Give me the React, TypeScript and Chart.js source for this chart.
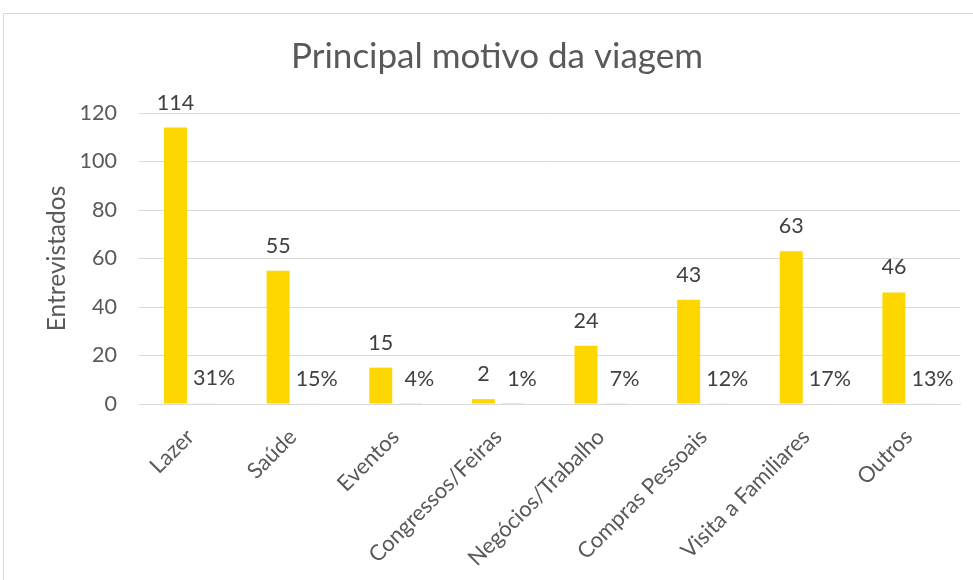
import React, { useEffect, useRef } from "react";
import { Chart, registerables } from "chart.js";

Chart.register(...registerables);

const categories = [
  "Lazer",
  "Saúde",
  "Eventos",
  "Congressos/Feiras",
  "Negócios/Trabalho",
  "Compras Pessoais",
  "Visita a Familiares",
  "Outros",
];
const entrevistados = [114, 55, 15, 2, 24, 43, 63, 46];
const percentuais = [0.31, 0.15, 0.04, 0.01, 0.07, 0.12, 0.17, 0.13];
const yTicks = [0, 20, 40, 60, 80, 100, 120];
const chartTitle = "Principal motivo da viagem";

const FONT = "Lato, 'Open Sans', sans-serif";
const TEXT_DARK = "#404040";
const TEXT = "#595959";
const GRID = "#d9d9d9";

const labelPlugin = {
  id: "valueLabels",
  afterDatasetsDraw(chart: any) {
    const ctx = chart.ctx;
    ctx.save();
    ctx.font = `21.5px ${FONT}`;
    ctx.fillStyle = TEXT_DARK;
    ctx.textAlign = "center";
    ctx.textBaseline = "alphabetic";
    chart.data.datasets.forEach((ds: any, di: number) => {
      const meta = chart.getDatasetMeta(di);
      meta.data.forEach((bar: any, i: number) => {
        const v = ds.data[i];
        const text = di === 0 ? String(v) : Math.round(v * 100) + "%";
        const dx = di === 0 ? 0 : 9;
        ctx.fillText(text, bar.x + dx, bar.y - 18);
      });
    });
    // chart title, centred on the chart box
    ctx.font = `35px ${FONT}`;
    ctx.fillStyle = TEXT;
    ctx.textBaseline = "middle";
    ctx.fillText(chartTitle, 497, 57);
    ctx.restore();
  },
};

export default function App() {
  const ref = useRef<HTMLCanvasElement | null>(null);

  useEffect(() => {
    if (!ref.current) return;
    const chart = new Chart(ref.current, {
      type: "bar",
      data: {
        labels: categories,
        datasets: [
          {
            label: "Entrevistados",
            data: entrevistados,
            backgroundColor: "#FFD700",
            categoryPercentage: 0.577,
            barPercentage: 0.777,
          },
          {
            label: "%",
            data: percentuais,
            backgroundColor: "#d0d0d0",
            categoryPercentage: 0.577,
            barPercentage: 0.777,
          },
        ],
      },
      options: {
        animation: false,
        responsive: false,
        maintainAspectRatio: false,
        layout: { padding: { left: 0, right: 13, top: 113, bottom: 0 } },
        plugins: {
          legend: { display: false },
          tooltip: { enabled: false },
          title: { display: false },
        },
        scales: {
          x: {
            grid: { display: false, drawTicks: false },
            border: { display: true, color: GRID, width: 1 },
            ticks: {
              color: TEXT,
              font: { family: FONT, size: 22 },
              minRotation: 45,
              maxRotation: 45,
              padding: 20,
              autoSkip: false,
            },
            afterFit: (scale: any) => {
              scale.height = 176;
            },
          },
          y: {
            min: 0,
            max: 120,
            afterBuildTicks: (scale: any) => {
              scale.ticks = yTicks.map((v) => ({ value: v }));
            },
            grid: { color: GRID, lineWidth: 1, drawTicks: false },
            border: { display: false },
            ticks: {
              color: TEXT,
              font: { family: FONT, size: 21.5 },
              padding: 22,
            },
            title: {
              display: true,
              text: "Entrevistados",
              color: TEXT,
              font: { family: FONT, size: 24.5, weight: "normal" },
              padding: { top: 42, bottom: 0 },
            },
            afterFit: (scale: any) => {
              scale.width = 139;
            },
          },
        },
      },
      plugins: [labelPlugin],
    } as any);
    return () => chart.destroy();
  }, []);

  return (
    <div
      style={{
        position: "fixed",
        left: 0,
        top: 0,
        width: 973,
        height: 580,
        overflow: "hidden",
        background: "#ffffff",
      }}
    >
      <div
        style={{
          position: "absolute",
          left: 3,
          top: 13,
          width: 1000,
          height: 1000,
          border: "1px solid #d9d9d9",
          boxSizing: "border-box",
        }}
      />
      <canvas
        ref={ref}
        width={973}
        height={580}
        style={{ position: "absolute", left: 0, top: 0, width: 973, height: 580 }}
      />
    </div>
  );
}
